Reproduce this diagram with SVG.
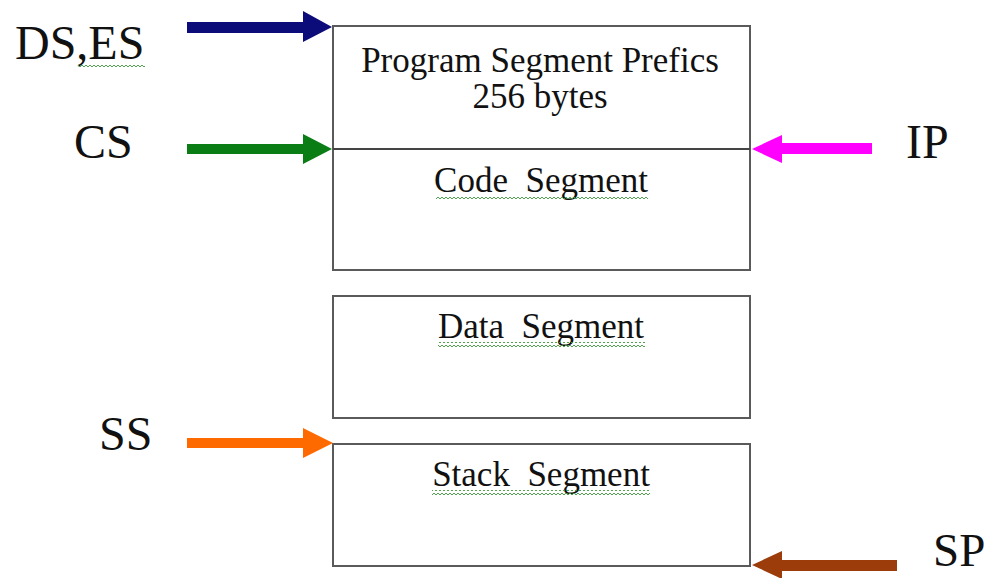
<svg xmlns="http://www.w3.org/2000/svg" width="990" height="578" viewBox="0 0 990 578">
<defs>
<style>
.box{fill:#fff;stroke:#5a5a5a;stroke-width:2}
.lbl{font-family:"Liberation Serif","Times New Roman",serif;font-size:48px;fill:#111}
.txt{font-family:"Liberation Serif","Times New Roman",serif;font-size:35px;fill:#111;text-anchor:middle}
</style>
<pattern id="squig" x="0" y="0" width="4" height="4" patternUnits="userSpaceOnUse">
<polyline points="0,3 2,1 4,3" fill="none" stroke="#3c9a3c" stroke-width="0.9"/>
</pattern>
</defs>
<rect width="990" height="578" fill="#fff"/>

<g id="psp-code">
<rect class="box" x="333" y="26" width="417" height="244"/>
<line x1="333" y1="149" x2="750" y2="149" stroke="#444" stroke-width="2"/>
<text class="txt" x="540" y="72">Program Segment Prefics</text>
<text class="txt" x="540" y="108">256 bytes</text>
<text class="txt" x="541" y="192" xml:space="preserve">Code  Segment</text>
<rect x="436" y="196" width="212" height="5" fill="url(#squig)"/>
</g>

<g id="data">
<rect class="box" x="333" y="296" width="417" height="122"/>
<text class="txt" x="541" y="338" xml:space="preserve">Data  Segment</text>
<rect x="438" y="342" width="207" height="5" fill="url(#squig)"/>
</g>

<g id="stack">
<rect class="box" x="333" y="444" width="417" height="122"/>
<text class="txt" x="541" y="486" xml:space="preserve">Stack  Segment</text>
<rect x="432" y="490" width="218" height="5" fill="url(#squig)"/>
</g>

<g id="labels">
<text class="lbl" x="15" y="59">DS,ES</text>
<rect x="78" y="64" width="67" height="5" fill="url(#squig)"/>
<text class="lbl" x="74" y="158">CS</text>
<text class="lbl" x="906" y="158">IP</text>
<text class="lbl" x="99" y="450">SS</text>
<text class="lbl" x="933" y="566" style="font-size:47px">SP</text>
</g>

<g id="connectors">
<polygon fill="#0b0b7a" points="187,22 303,22 303,11 332,27 303,42 303,33 187,33"/>
<polygon fill="#0a7d14" points="187,144 303,144 303,134 332,149 303,164 303,154 187,154"/>
<polygon fill="#ff00ff" points="872,143 782,143 782,135 752,149 782,163 782,154 872,154"/>
<polygon fill="#ff6a00" points="187,438 303,438 303,428 333,443 303,458 303,448 187,448"/>
<polygon fill="#9c3c0a" points="897,560 782,560 782,551 752,565 782,579 782,571 897,571"/>
</g>
</svg>
